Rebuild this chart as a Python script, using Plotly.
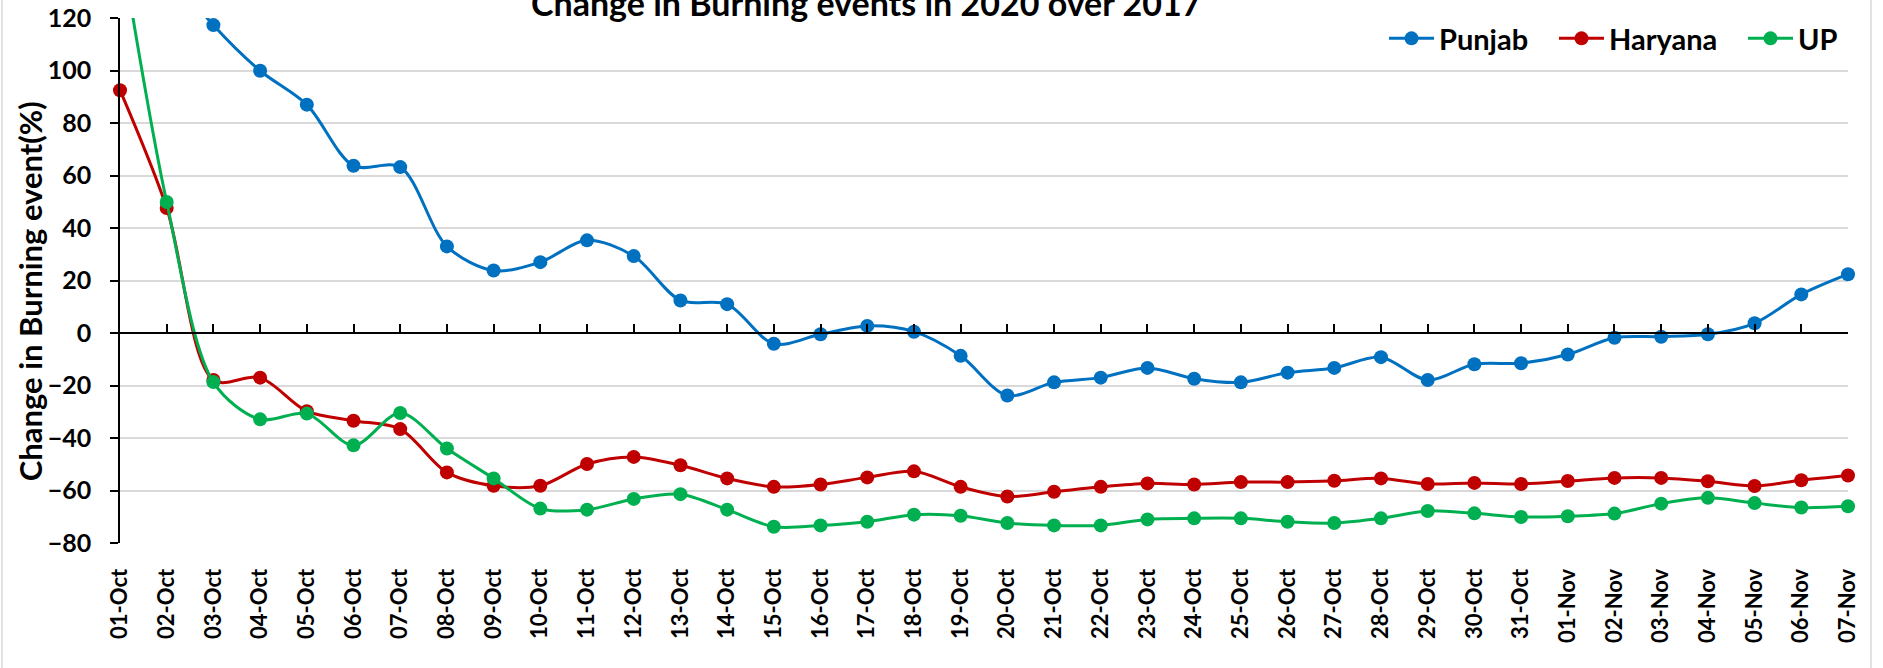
import plotly.graph_objects as go

dates = ["01-Oct", "02-Oct", "03-Oct", "04-Oct", "05-Oct", "06-Oct", "07-Oct", "08-Oct",
         "09-Oct", "10-Oct", "11-Oct", "12-Oct", "13-Oct", "14-Oct", "15-Oct", "16-Oct",
         "17-Oct", "18-Oct", "19-Oct", "20-Oct", "21-Oct", "22-Oct", "23-Oct", "24-Oct",
         "25-Oct", "26-Oct", "27-Oct", "28-Oct", "29-Oct", "30-Oct", "31-Oct", "01-Nov",
         "02-Nov", "03-Nov", "04-Nov", "05-Nov", "06-Nov", "07-Nov"]

punjab = [180, 140, 117.3, 99.9, 87.0, 63.7, 63.2, 33.0, 23.8, 27.0, 35.3, 29.3, 12.4, 11.0,
          -4.1, -0.5, 2.7, 0.5, -8.7, -23.8, -18.8, -17.0, -13.3, -17.4, -18.8, -15.1, -13.3,
          -9.2, -17.9, -11.9, -11.5, -8.2, -1.8, -1.4, -0.5, 3.7, 14.7, 22.4]

haryana = [92.5, 47.6, -17.9, -17.0, -29.8, -33.4, -36.6, -53.1, -58.2, -58.2, -49.9, -47.2,
           -50.4, -55.4, -58.6, -57.7, -55.0, -52.7, -58.6, -62.3, -60.5, -58.6, -57.3, -57.7,
           -56.8, -56.8, -56.3, -55.4, -57.5, -57.1, -57.5, -56.4, -55.2, -55.2, -56.5, -58.3,
           -56.1, -54.3]

up = [150, 49.9, -18.7, -32.9, -30.7, -42.8, -30.5, -44.0, -55.4, -66.9, -67.3, -63.2,
      -61.4, -67.3, -73.8, -73.3, -71.9, -69.2, -69.6, -72.4, -73.3, -73.3, -71.0, -70.6,
      -70.6, -71.9, -72.4, -70.6, -67.8, -68.7, -70.1, -69.8, -68.8, -65.0, -62.8, -64.8,
      -66.5, -66.0]

series = [("Punjab", punjab, "#0070C0"), ("Haryana", haryana, "#C00000"), ("UP", up, "#00B050")]

W, H = 1883, 668
L, T = 120, 17.5
R = W - 1848
B = H - 543
pw, ph = W - L - R, H - T - B


def px_x(x):
    return (x - L) / pw


def px_y(y):
    return (H - B - y) / ph


xs = list(range(len(dates)))
font_family = "Lato"
legend_names = ["legend", "legend2", "legend3"]
legend_x = [1384, 1554, 1743]

fig = go.Figure()
for (name, vals, col), lg in zip(series, legend_names):
    fig.add_trace(go.Scatter(
        x=xs, y=vals, name=name, mode="lines+markers",
        line=dict(color=col, width=3, shape="spline", smoothing=0.9),
        marker=dict(color=col, size=14),
        cliponaxis=False, legend=lg,
    ))
# invisible trace to carry the zero-level axis
fig.add_trace(go.Scatter(x=[0], y=[0], xaxis="x2", mode="markers",
                         marker=dict(opacity=0), showlegend=False, hoverinfo="skip"))

legend_font = dict(family=font_family, size=29, color="black", weight="bold")
legends = {}
for lg, lx in zip(legend_names, legend_x):
    legends[lg] = dict(orientation="h", x=px_x(lx), xanchor="left",
                       y=px_y(38), yanchor="middle", font=legend_font,
                       bgcolor="rgba(0,0,0,0)", itemwidth=45)

fig.update_layout(
    width=W, height=H, autosize=False,
    margin=dict(l=L, r=R, t=T, b=B, autoexpand=False),
    paper_bgcolor="white", plot_bgcolor="white",
    font=dict(family=font_family, size=25, color="black", weight="bold"),
    showlegend=True,
    **legends,
    xaxis=dict(range=[0, len(dates) - 1], tickmode="array", tickvals=xs, ticktext=dates,
               tickangle=-90, showgrid=False, showline=False, zeroline=False,
               ticks="outside", ticklen=16, tickcolor="rgba(0,0,0,0)", automargin=False,
               tickfont=dict(family=font_family, size=22, color="black", weight="bold")),
    xaxis2=dict(range=[0, len(dates) - 1], overlaying="x", anchor="free", position=0.4,
                side="bottom", tickmode="array", tickvals=xs, showticklabels=False,
                ticks="inside", ticklen=8, tickwidth=1.5, tickcolor="black", automargin=False,
                showline=True, linecolor="black", linewidth=1.5, showgrid=False, zeroline=False),
    yaxis=dict(range=[-80, 120], dtick=20, tick0=0, showgrid=True, gridcolor="#D9D9D9",
               gridwidth=1.5, zeroline=False, showline=True, linecolor="black", linewidth=1.5,
               ticks="outside", ticklen=8, tickwidth=1.5, tickcolor="black",
               ticklabelstandoff=14, automargin=False,
               tickfont=dict(family=font_family, size=25, color="black", weight="bold")),
)

fig.add_annotation(text="Change in Burning events in 2020 over 2017",
                   xref="paper", yref="paper", x=px_x(866), y=px_y(25),
                   xanchor="center", yanchor="bottom", showarrow=False,
                   font=dict(family=font_family, size=34, color="black", weight="bold"))
fig.add_annotation(text="Change in Burning event(%)", textangle=-90,
                   xref="paper", yref="paper", x=px_x(30), y=px_y(291),
                   xanchor="center", yanchor="middle", showarrow=False,
                   font=dict(family=font_family, size=31, color="black", weight="bold"))

# chart border lines (left and right)
for bx in (2, 1871):
    fig.add_shape(type="line", xref="paper", yref="paper",
                  x0=px_x(bx), x1=px_x(bx), y0=-1, y1=2,
                  line=dict(color="#D9D9D9", width=1.5))

# remove the default 8px page margin so the figure sits at the window's top-left
fig.write_html("out.html", config={"displayModeBar": False},
               post_script="document.body.style.margin='0px';")
